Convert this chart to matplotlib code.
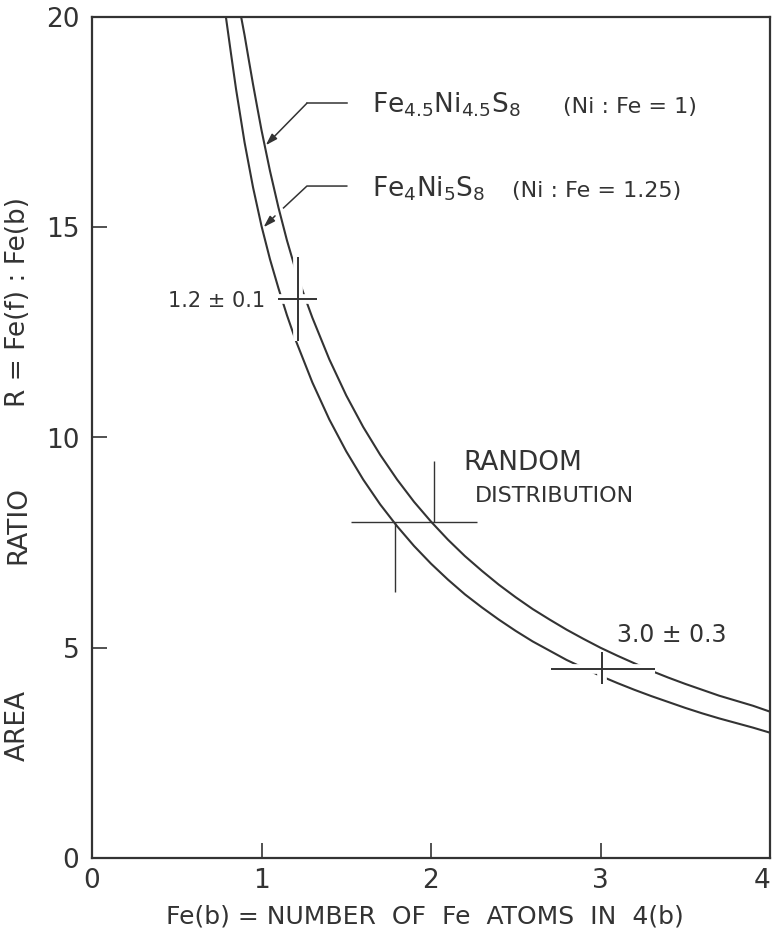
import matplotlib
matplotlib.use("Agg")
import matplotlib.pyplot as plt

# ---------------- data ----------------
# Fe4.5Ni4.5S8 (Ni:Fe = 1)  -- upper curve
fe_b_upper = [0.88, 0.90, 0.925, 0.95, 0.975, 1.00, 1.05, 1.10, 1.15, 1.20, 1.25,
              1.30, 1.40, 1.50, 1.60, 1.70, 1.80, 1.90, 2.00, 2.10, 2.20, 2.30,
              2.40, 2.50, 2.60, 2.70, 2.80, 2.90, 3.00, 3.10, 3.20, 3.30, 3.40,
              3.50, 3.60, 3.70, 3.80, 3.90, 4.00]
r_upper = [20.0, 19.57, 18.98, 18.40, 17.85, 17.31, 16.34, 15.47, 14.69, 14.0, 13.4,
           12.85, 11.86, 11.0, 10.25, 9.59, 9.0, 8.47, 8.0, 7.57, 7.18, 6.83,
           6.5, 6.2, 5.92, 5.67, 5.43, 5.21, 5.0, 4.81, 4.63, 4.45, 4.29,
           4.14, 4.0, 3.86, 3.74, 3.62, 3.48]

# Fe4Ni5S8 (Ni:Fe = 1.25)  -- lower curve
fe_b_lower = [0.79, 0.82, 0.85, 0.90, 0.95, 1.00, 1.05, 1.10, 1.15, 1.20, 1.30,
              1.40, 1.50, 1.60, 1.70, 1.80, 1.90, 2.00, 2.10, 2.20, 2.30, 2.40,
              2.50, 2.60, 2.70, 2.80, 2.90, 3.00, 3.10, 3.20, 3.30, 3.40, 3.50,
              3.60, 3.70, 3.80, 3.90, 4.00]
r_lower = [20.0, 19.13, 18.28, 17.02, 15.95, 15.03, 14.24, 13.55, 12.91, 12.33, 11.31,
           10.43, 9.67, 9.0, 8.41, 7.89, 7.42, 7.0, 6.62, 6.27, 5.96, 5.67,
           5.4, 5.15, 4.93, 4.71, 4.52, 4.33, 4.16, 4.0, 3.85, 3.71, 3.57,
           3.44, 3.32, 3.21, 3.1, 2.98]

# measured points (centre, horizontal extent, vertical extent)
cross1 = dict(x=1.215, y=13.3, x0=1.10, x1=1.33, y0=12.3, y1=14.3)
cross3 = dict(x=3.01, y=4.5, x0=2.71, x1=3.32, y0=4.14, y1=4.90)
# random distribution marks
rand_y = 8.0
rand_x0, rand_x1 = 1.53, 2.27
rand_left_x, rand_left_y0 = 1.79, 6.33
rand_right_x, rand_right_y1 = 2.02, 9.43

x_ticks = [0, 1, 2, 3, 4]
y_ticks = [0, 5, 10, 15, 20]

label1_main = r"Fe$_{4.5}$Ni$_{4.5}$S$_8$"
label1_ratio = "(Ni : Fe = 1)"
label2_main = r"Fe$_4$Ni$_5$S$_8$"
label2_ratio = "(Ni : Fe = 1.25)"

# ---------------- drawing ----------------
plt.rcParams["font.family"] = ["DejaVu Sans"]
plt.rcParams["mathtext.fontset"] = "dejavusans"

ink = "#333333"
fig = plt.figure(figsize=(7.73, 9.46), dpi=100)
ax = fig.add_axes([92 / 773, 1 - 858 / 946, (770 - 92) / 773, (858 - 17) / 946])

ax.plot(fe_b_upper, r_upper, color=ink, lw=1.5, zorder=2)
ax.plot(fe_b_lower, r_lower, color=ink, lw=1.5, zorder=2)

for c in (cross1, cross3):
    # white gaps cut into the curves around the measured crosses
    ax.hlines(c["y"], c["x0"], c["x1"], color="white", lw=7, zorder=3)
    ax.vlines(c["x"], c["y0"], c["y1"], color="white", lw=7, zorder=3)
for c in (cross1, cross3):
    ax.hlines(c["y"], c["x0"], c["x1"], color=ink, lw=1.4, zorder=4)
    ax.vlines(c["x"], c["y0"], c["y1"], color=ink, lw=1.4, zorder=4)

ax.hlines(rand_y, rand_x0, rand_x1, color=ink, lw=1.0, zorder=3)
ax.vlines(rand_left_x, rand_left_y0, rand_y, color=ink, lw=1.0, zorder=3)
ax.vlines(rand_right_x, rand_y, rand_right_y1, color=ink, lw=1.0, zorder=3)

ax.set_xlim(0, 4)
ax.set_ylim(0, 20)
ax.set_xticks(x_ticks)
ax.set_yticks(y_ticks)
ax.set_xticklabels([str(v) for v in x_ticks])
ax.set_yticklabels([str(v) for v in y_ticks])
ax.tick_params(axis="both", direction="in", length=11, width=1.2, color=ink,
               labelsize=19, labelcolor=ink)
ax.tick_params(axis="x", pad=7)
ax.tick_params(axis="y", pad=9)
ax.get_xticklabels()[-1].set_horizontalalignment("right")
for t in (ax.xaxis.get_major_ticks()[0], ax.xaxis.get_major_ticks()[-1],
          ax.yaxis.get_major_ticks()[0], ax.yaxis.get_major_ticks()[-1]):
    t.tick1line.set_visible(False)
for s in ax.spines.values():
    s.set_color(ink)
    s.set_linewidth(1.6)

# annotations
ax.text(1.65, 17.72, label1_main, fontsize=19, color=ink, va="baseline", ha="left")
ax.text(2.78, 17.72, label1_ratio, fontsize=16, color=ink, va="baseline", ha="left")
ax.text(1.65, 15.72, label2_main, fontsize=19, color=ink, va="baseline", ha="left")
ax.text(2.48, 15.72, label2_ratio, fontsize=16, color=ink, va="baseline", ha="left")

arrow_style = dict(arrowstyle="-|>,head_length=0.7,head_width=0.22",
                   color=ink, lw=1.1, shrinkA=0, shrinkB=0)
ax.plot([1.503, 1.268], [17.95, 17.95], color=ink, lw=1.1)
ax.annotate("", xy=(1.025, 16.95), xytext=(1.268, 17.95), arrowprops=arrow_style)
ax.plot([1.503, 1.268, 1.13], [15.98, 15.98, 15.46], color=ink, lw=1.1)
ax.annotate("", xy=(1.012, 15.0), xytext=(1.08, 15.27), arrowprops=arrow_style)

ax.text(1.02, 13.1, "1.2 \u00b1 0.1", fontsize=15, color=ink, ha="right", va="baseline")
ax.text(3.095, 5.14, "3.0 \u00b1 0.3", fontsize=17, color=ink, ha="left", va="baseline")
ax.text(2.54, 9.23, "RANDOM", fontsize=19, color=ink, ha="center", va="baseline")
ax.text(2.73, 8.47, "DISTRIBUTION", fontsize=16, color=ink, ha="center", va="baseline")

fig.text(425 / 773, 1 - 916 / 946, "Fe(b) = NUMBER  OF  Fe  ATOMS  IN  4(b)",
         fontsize=18, color=ink, ha="center", va="center")
# y-axis title, drawn word group by word group to keep the wide spacing
for txt, ypix in (("AREA", 725), ("RATIO", 525), ("R = Fe(f) : Fe(b)", 302)):
    fig.text(18 / 773, 1 - ypix / 946, txt, fontsize=19, color=ink,
             ha="center", va="center", rotation=90)

fig.savefig("out.png", dpi=100, facecolor="white")
